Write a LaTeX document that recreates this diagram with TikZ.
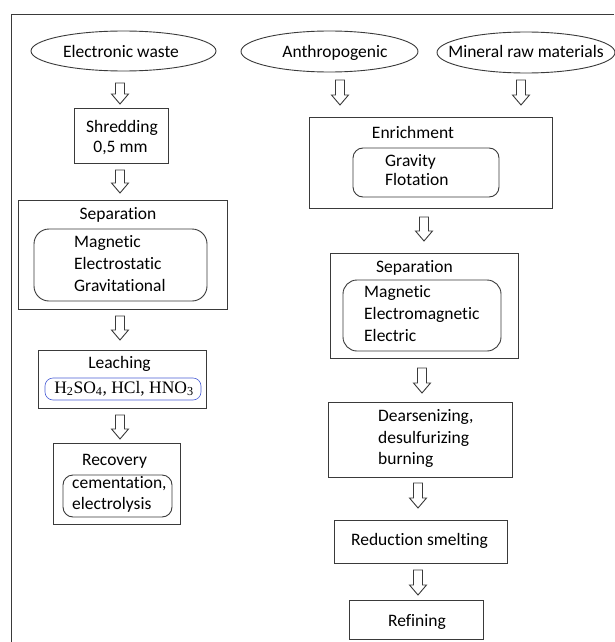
\documentclass[tikz,border=0pt]{standalone}
\usepackage{fontspec}
\setmainfont{Carlito}[Ligatures=NoCommon]
\newfontfamily\chemfont{Liberation Serif}
\usetikzlibrary{shapes.geometric,fit}
\definecolor{linec}{HTML}{3A3A3A}
\definecolor{bluec}{HTML}{4A5FD6}
\newcommand\blockarrow[3]{%
  \draw[lc,fill=white] ({#1-4.5},#2) -- ({#1+4.5},#2) -- ({#1+4.5},{#3-10}) -- ({#1+8.5},{#3-10}) -- (#1,#3) -- ({#1-8.5},{#3-10}) -- ({#1-4.5},{#3-10}) -- cycle;}
\begin{document}
\begin{tikzpicture}[x=1pt,y=-1pt,
  lc/.style={draw=linec, line width=0.9pt},
  box/.style={lc, rectangle, inner sep=0pt},
  rbox/.style={lc, rectangle, rounded corners=12pt, inner sep=0pt},
  oval/.style={lc, ellipse, inner sep=0pt},
  lbl/.style={inner sep=0pt, anchor=base, font=\fontsize{17.5}{21}\selectfont},
  lbll/.style={lbl, anchor=base west}]
\useasboundingbox (0,0) rectangle (614,642);
\fill[white] (0,0) rectangle (614,642);
% outer frame
\draw[lc] (614,14) -- (11,14) -- (11,642);

% ellipses
\node[oval, minimum width=185pt, minimum height=40pt] (ew) at (123.5,51) {};
\node[lbl] (ewt) at (121,57) {Electronic waste};
\node[oval, minimum width=177pt, minimum height=41pt] (an) at (329.5,51.5) {};
\node[lbl] (ant) at (335,57) {Anthropogenic};
\node[oval, minimum width=178pt, minimum height=41pt] (mr) at (526,52.5) {};
\node[lbl] (mrt) at (526,58) {Mineral raw materials};

% left column
\blockarrow{120}{83}{104}
\node[box, fit={(74,108) (168,163)}] (shred) {};
\node[lbl] at (122,132) {Shredding};
\node[lbl] at (120.5,152) {0,5 mm};

\blockarrow{120}{170}{193}
\node[box, fit={(18,200) (227,309)}] (sepL) {};
\node[lbl] at (118,219) {Separation};
\node[rbox, rounded corners=15pt, fit={(34,229) (207,301)}] (sepLin) {};
\node[lbll] at (74,247) {Magnetic};
\node[lbll] at (74,269) {Electrostatic};
\node[lbll] at (74,291) {Gravitational};

\blockarrow{120}{316}{340}
\node[box, fit={(38,350) (206,408)}] (leach) {};
\node[lbl] at (119.5,368) {Leaching};
\node[draw=bluec, line width=0.6pt, rectangle, rounded corners=8pt, inner sep=0pt, fit={(45,378) (201,400)}] (leachin) {};
\node[lbl, font=\chemfont\fontsize{17.5}{21}\selectfont] at (124,393) {H\textsubscript{2}SO\textsubscript{4}, HCl, HNO\textsubscript{3}};

\blockarrow{120}{415}{439}
\node[box, fit={(53,443) (180,524)}] (recov) {};
\node[lbl] at (114.5,465) {Recovery};
\node[rbox, rounded corners=10pt, fit={(63,475) (172,517)}] (recovin) {};
\node[lbll] at (72,488) {cementation,};
\node[lbll] at (72,509) {electrolysis};

% right column
\blockarrow{340}{80}{105}
\blockarrow{521}{80}{105}
\node[box, fit={(309,117) (552,208)}] (enrich) {};
\node[lbl] at (413,138) {Enrichment};
\node[rbox, rounded corners=10pt, fit={(353,148) (499,197)}] (enrichin) {};
\node[lbll] at (385,166) {Gravity};
\node[lbll] at (385,185) {Flotation};

\blockarrow{424}{217}{241}
\node[box, fit={(330,253) (518,358)}] (sepR) {};
\node[lbl] at (414.5,272) {Separation};
\node[rbox, rounded corners=14pt, fit={(343,280) (501,351)}] (sepRin) {};
\node[lbll] at (364,297) {Magnetic};
\node[lbll] at (364,319) {Electromagnetic};
\node[lbll] at (364,341) {Electric};

\blockarrow{422}{368}{393}
\node[box, fit={(328,402) (512,477)}] (dears) {};
\node[lbll] at (378,421) {Dearsenizing,};
\node[lbll] at (378,443) {desulfurizing};
\node[lbll] at (378,464) {burning};

\blockarrow{418}{483}{508}
\node[box, fit={(334,520) (507,563)}] (redsm) {};
\node[lbl] at (419.5,545) {Reduction smelting};

\blockarrow{418}{570}{595}
\node[box, fit={(349,600) (483,639)}] (refin) {};
\node[lbl] at (417,626) {Refining};
\end{tikzpicture}
\end{document}
